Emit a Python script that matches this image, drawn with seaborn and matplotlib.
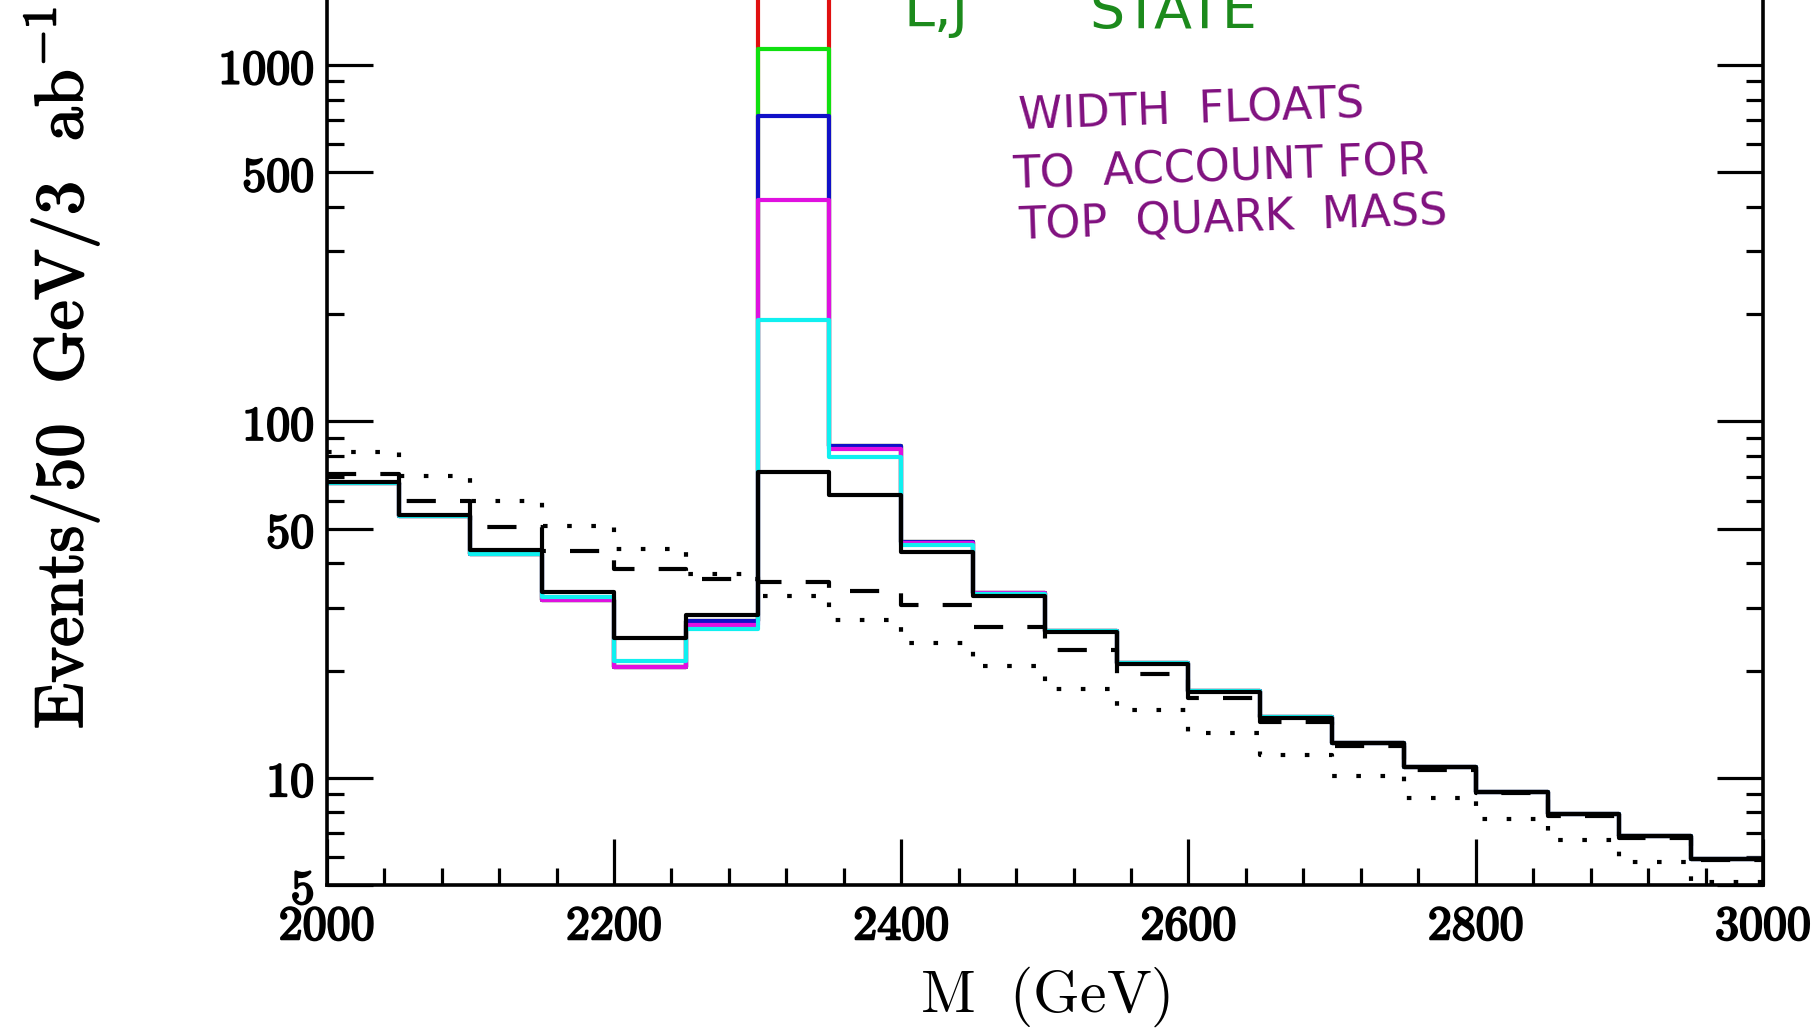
import numpy as np
import pandas as pd
import matplotlib
matplotlib.use("Agg")
import matplotlib.pyplot as plt
import matplotlib.patheffects as pe
import seaborn as sns
from matplotlib.ticker import FixedLocator, LogLocator, MultipleLocator, FuncFormatter, NullFormatter

# 50 GeV bins from 2000 to 3000 GeV
bin_edges = list(range(2000, 3001, 50))

# Signal + background for several resonance widths (events per bin)
sum_red = [67.0, 54.2, 42.5, 31.6, 20.5, 27.5, 1650, 85.3, 45.8, 33.0,
           25.9, 21.0, 17.5, 14.8, 12.5, 10.7, 9.14, 7.9, 6.85, 5.9]
sum_green = [67.0, 54.2, 42.5, 31.6, 20.5, 27.5, 1107, 85.3, 45.8, 33.0,
             25.9, 21.0, 17.5, 14.8, 12.5, 10.7, 9.14, 7.9, 6.85, 5.9]
sum_blue = [67.0, 54.2, 42.5, 31.6, 20.5, 27.5, 721, 85.3, 45.8, 33.0,
            25.9, 21.0, 17.5, 14.8, 12.5, 10.7, 9.14, 7.9, 6.85, 5.9]
sum_magenta = [67.0, 54.2, 42.5, 31.6, 20.5, 26.8, 418, 83.5, 45.7, 33.0,
               25.9, 21.0, 17.5, 14.8, 12.5, 10.7, 9.14, 7.9, 6.85, 5.9]
sum_cyan = [67.0, 54.2, 42.5, 32.2, 21.3, 26.1, 193, 79.5, 45.1, 32.9,
            25.9, 21.0, 17.5, 14.8, 12.5, 10.7, 9.14, 7.9, 6.85, 5.9]
sum_black = [67.5, 54.7, 43.6, 33.3, 24.7, 28.6, 72.3, 62.3, 43.0, 32.3,
             25.7, 20.9, 17.4, 14.7, 12.5, 10.7, 9.14, 7.9, 6.85, 5.9]
# Background-only shapes
bkg_dashed = [71.3, 59.8, 50.5, 43.3, 38.5, 36.1, 35.5, 33.5, 30.5, 26.5,
              22.9, 19.5, 16.7, 14.3, 12.3, 10.5, 9.04, 7.82, 6.76, 5.88]
bkg_dotted = [82.2, 70.3, 59.8, 50.9, 43.8, 37.3, 32.3, 27.7, 23.9, 20.6,
              17.8, 15.5, 13.4, 11.6, 10.1, 8.79, 7.64, 6.68, 5.81, 5.09]

x_ticks = [2000, 2200, 2400, 2600, 2800, 3000]
y_ticks = [5, 10, 50, 100, 500, 1000]

sns.set_theme(style="white")
plt.rcParams["mathtext.fontset"] = "cm"
plt.rcParams["font.family"] = ["DejaVu Serif"]

fig = plt.figure(figsize=(18.17, 10.29), dpi=100)
ax = fig.add_axes([0.1798, 0.1399, 0.7905, 0.8601])
ax.set_yscale("log")

centers = np.array(bin_edges[:-1]) + 25
lw = 3.0
series = [
    (sum_red, "#e01010", "-"),
    (sum_green, "#10e010", "-"),
    (sum_blue, "#1010c8", "-"),
    (sum_magenta, "#e010e0", "-"),
    (sum_cyan, "#10f0f0", "-"),
    (sum_black, "black", "-"),
    (bkg_dashed, "black", (0, (7, 5.8))),
    (bkg_dotted, "black", (0, (1.1, 4.7))),
]
for vals, col, ls in series:
    df = pd.DataFrame({"M": centers, "n": vals})
    sns.histplot(data=df, x="M", weights="n", bins=bin_edges, element="step",
                 fill=False, color=col, linewidth=lw, linestyle=ls, ax=ax)

ax.set_xlim(2000, 3000)
ax.set_ylim(5, 1524)

ax.xaxis.set_major_locator(FixedLocator(x_ticks))
ax.xaxis.set_minor_locator(MultipleLocator(40))
ax.yaxis.set_major_locator(FixedLocator(y_ticks))
ax.yaxis.set_minor_locator(LogLocator(base=10, subs=(2, 3, 4, 6, 7, 8, 9)))
ax.yaxis.set_minor_formatter(NullFormatter())
fmt = FuncFormatter(lambda v, p: r"$\mathbf{%d}$" % int(round(v)))
ax.xaxis.set_major_formatter(fmt)
ax.yaxis.set_major_formatter(fmt)

for s in ["left", "right", "bottom"]:
    ax.spines[s].set_visible(True)
    ax.spines[s].set_color("black")
    ax.spines[s].set_linewidth(2.6)
ax.spines["top"].set_visible(False)

ax.tick_params(which="both", direction="in", left=True, right=True,
               bottom=True, top=False, width=2.3, colors="black")
ax.tick_params(which="major", length=33, labelsize=34.5)
ax.tick_params(which="minor", length=12)
ax.tick_params(axis="y", which="major", pad=9)
ax.tick_params(axis="x", which="major", pad=12.5)

bold_fx = [pe.withStroke(linewidth=1.5, foreground="black")]
for lab in ax.get_xticklabels() + ax.get_yticklabels():
    lab.set_path_effects(bold_fx)

ax.set_xlabel(r"$\mathrm{M\ \ (GeV)}$", fontsize=43, color="black")
ax.xaxis.set_label_coords(0.5, -0.090)
ylab = ax.set_ylabel(r"$\mathrm{Events/50\ \ GeV/3\ \ ab^{-1}}$",
                     fontsize=49, color="black")
ylab.set_path_effects([pe.withStroke(linewidth=1.2, foreground="black")])
ax.yaxis.set_label_coords(-0.157, 0.584)

# Handwritten notes
note_kw = dict(color="#80107f", fontsize=32, family="DejaVu Sans",
               transform=fig.transFigure, ha="left", va="baseline", rotation=2)
fig.text(0.560, 0.874, "WIDTH  FLOATS", **note_kw)
fig.text(0.557, 0.817, "TO  ACCOUNT FOR", **note_kw)
fig.text(0.560, 0.767, "TOP  QUARK  MASS", **note_kw)
green_kw = dict(color="#1c8a1c", fontsize=40, family="DejaVu Sans",
                transform=fig.transFigure, ha="left", va="baseline")
fig.text(0.4975, 0.975, "L,J", **green_kw)
fig.text(0.5995, 0.973, "STATE", **green_kw)

fig.savefig("out.png", dpi=100, facecolor="white")
